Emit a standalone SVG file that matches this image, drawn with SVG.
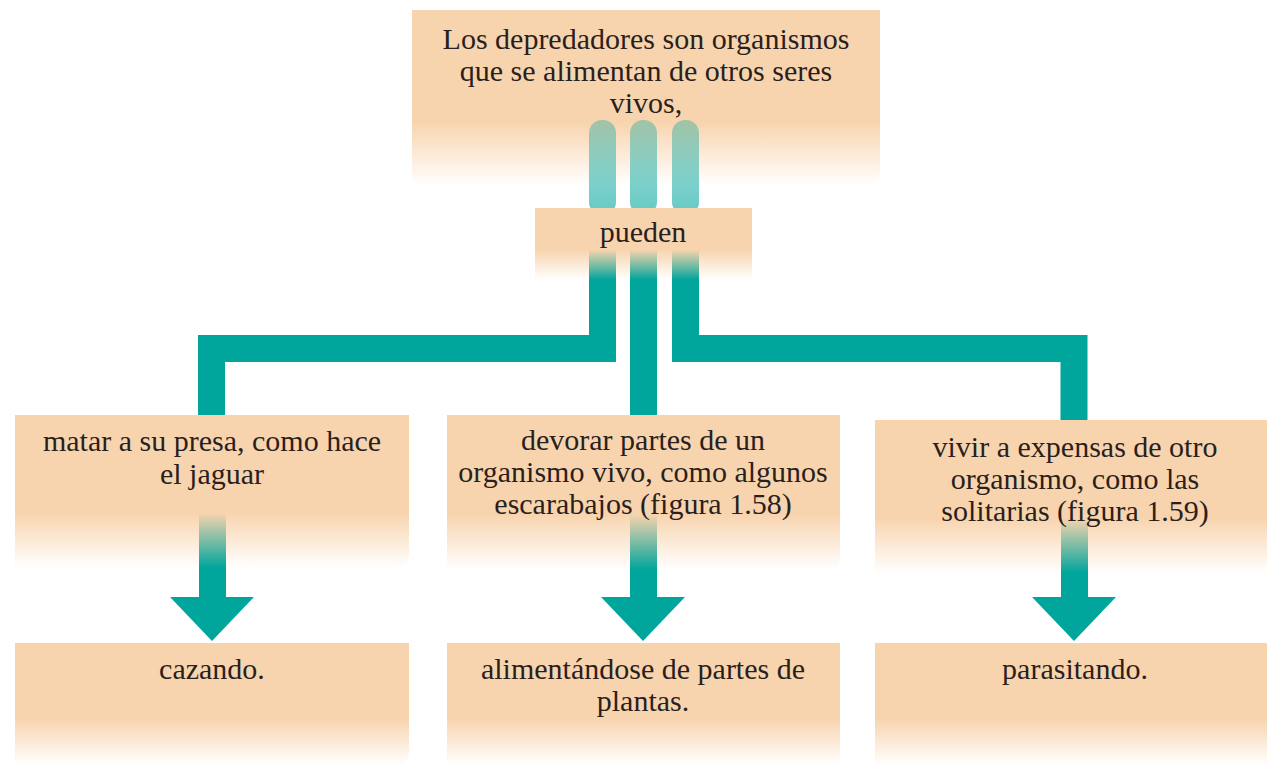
<svg xmlns="http://www.w3.org/2000/svg" width="1267" height="765" viewBox="0 0 1267 765">
<defs>
<linearGradient id="fTop" x1="0" y1="0" x2="0" y2="1"><stop offset="0" stop-color="#f8d4ae"/><stop offset="0.64" stop-color="#f8d4ae"/><stop offset="1" stop-color="#f8d4ae" stop-opacity="0"/></linearGradient>
<linearGradient id="fMid" x1="0" y1="0" x2="0" y2="1"><stop offset="0" stop-color="#f8d4ae"/><stop offset="0.64" stop-color="#f8d4ae"/><stop offset="1" stop-color="#f8d4ae" stop-opacity="0"/></linearGradient>
<linearGradient id="fBot" x1="0" y1="0" x2="0" y2="1"><stop offset="0" stop-color="#f8d4ae"/><stop offset="0.62" stop-color="#f8d4ae"/><stop offset="1" stop-color="#f8d4ae" stop-opacity="0"/></linearGradient>
<linearGradient id="fPue" x1="0" y1="0" x2="0" y2="1"><stop offset="0" stop-color="#f8d4ae"/><stop offset="0.58" stop-color="#f8d4ae"/><stop offset="1" stop-color="#f8d4ae" stop-opacity="0"/></linearGradient>
<linearGradient id="fBar" x1="0" y1="0" x2="0" y2="1"><stop offset="0" stop-color="#00a59c" stop-opacity="0.35"/><stop offset="1" stop-color="#00a59c" stop-opacity="0.6"/></linearGradient>
</defs>
<style>
text{font-family:"Liberation Serif","Times New Roman",serif;font-size:30px;fill:#2a1f1d;text-anchor:middle}
.con{fill:none;stroke:#00a59c;stroke-width:27;stroke-linejoin:miter}
.bar{fill:url(#fBar)}
.head{fill:#00a59c}
</style>
<g id="n-top">
<path d="M412,10 H880 V170 Q880,185 865,185 H412 Z" fill="url(#fTop)"/>
<text x="646" y="49">Los depredadores son organismos</text>
<text x="646" y="81">que se alimentan de otros seres</text>
<text x="646" y="113">vivos,</text>
</g>
<g id="connectors">
<rect class="bar" x="589" y="120" width="27" height="95" rx="13"/>
<rect class="bar" x="630" y="120" width="27" height="95" rx="13"/>
<rect class="bar" x="672" y="120" width="27" height="95" rx="13"/>
<path class="con" d="M602.5,212 V348.5 H211.5 V416"/>
<path class="con" d="M643.5,212 V416"/>
<path class="con" d="M685.5,212 V348.5 H1074 V421"/>
<rect class="head" x="199" y="500" width="27" height="98"/>
<polygon class="head" points="170,597 254,597 212,641"/>
<rect class="head" x="630" y="500" width="27" height="98"/>
<polygon class="head" points="601,597 685,597 643,641"/>
<rect class="head" x="1061" y="500" width="27" height="98"/>
<polygon class="head" points="1032,597 1116,597 1074,641"/>
</g>
<g id="n-pueden">
<rect x="535" y="208" width="217" height="72" fill="url(#fPue)"/>
<text x="643" y="242">pueden</text>
</g>
<g id="n-matar">
<path d="M15,415 H409 V553 Q409,568 394,568 H15 Z" fill="url(#fMid)"/>
<text x="212" y="451">matar a su presa, como hace</text>
<text x="212" y="484">el jaguar</text>
</g>
<g id="n-devorar">
<path d="M447,415 H840 V555 Q840,570 825,570 H447 Z" fill="url(#fMid)"/>
<text x="643" y="450">devorar partes de un</text>
<text x="643" y="482">organismo vivo, como algunos</text>
<text x="643" y="514">escarabajos (figura 1.58)</text>
</g>
<g id="n-vivir">
<rect x="875" y="420" width="392" height="153" fill="url(#fMid)"/>
<text x="1075" y="457">vivir a expensas de otro</text>
<text x="1075" y="489">organismo, como las</text>
<text x="1075" y="521">solitarias (figura 1.59)</text>
</g>
<g id="n-cazando">
<path d="M15,643 H409 V750 Q409,765 394,765 H15 Z" fill="url(#fBot)"/>
<text x="212" y="679">cazando.</text>
</g>
<g id="n-alimentandose">
<path d="M447,643 H840 V765 H447 Z" fill="url(#fBot)"/>
<text x="643" y="679">alimentándose de partes de</text>
<text x="643" y="711">plantas.</text>
</g>
<g id="n-parasitando">
<rect x="875" y="643" width="392" height="122" fill="url(#fBot)"/>
<text x="1075" y="679">parasitando.</text>
</g>
</svg>
